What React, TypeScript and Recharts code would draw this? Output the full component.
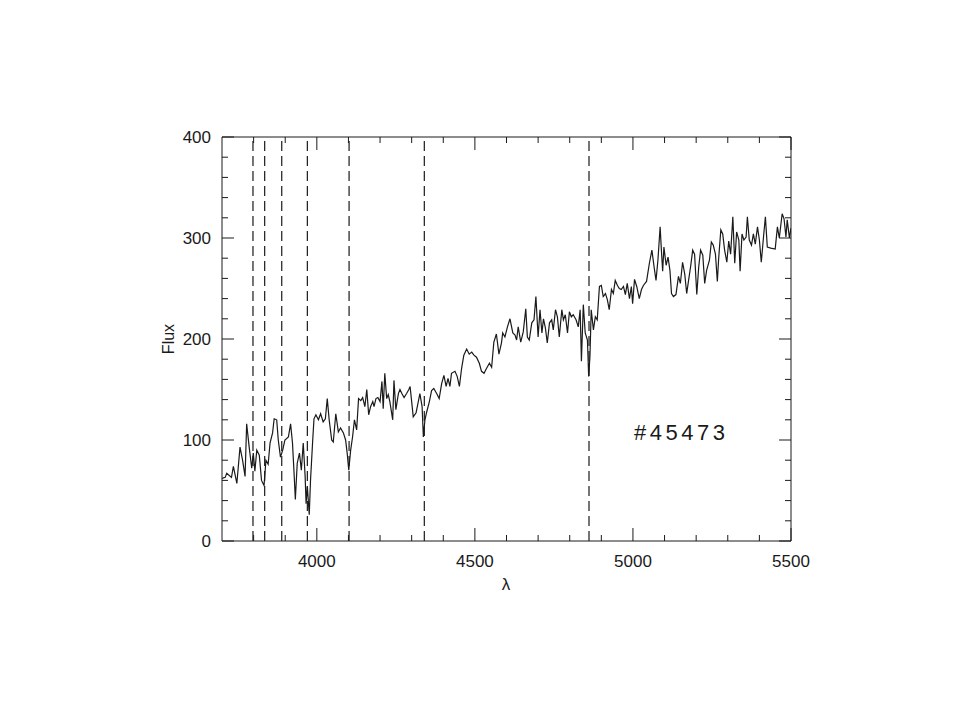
import { LineChart, Line, XAxis, YAxis, ReferenceLine } from "recharts";

// Spectrum of #45473: wavelength (Å) and flux.
const LAMBDA = [
  3700, 3710, 3715, 3730, 3736, 3747, 3757, 3765, 3773, 3778, 3786, 3794, 3799, 3804, 3810, 3818,
  3825, 3833, 3839, 3846, 3852, 3860, 3865, 3873, 3878, 3885, 3892, 3899, 3910, 3917, 3923, 3928,
  3932, 3938, 3945, 3951, 3957, 3963, 3966, 3970, 3976, 3980, 3987, 3991, 3997, 4005, 4012, 4020,
  4027, 4033, 4039, 4047, 4052, 4060, 4068, 4075, 4084, 4091, 4096, 4101, 4107, 4113, 4119, 4126,
  4132, 4139, 4145, 4152, 4158, 4164, 4170, 4177, 4181, 4187, 4193, 4200, 4206, 4210, 4215, 4221,
  4226, 4231, 4240, 4244, 4250, 4258, 4263, 4269, 4276, 4284, 4291, 4295, 4300, 4305, 4314, 4321,
  4326, 4333, 4337, 4342, 4347, 4356, 4363, 4370, 4379, 4387, 4395, 4402, 4409, 4415, 4421, 4426,
  4437, 4444, 4451, 4458, 4465, 4474, 4482, 4490, 4497, 4505, 4514, 4521, 4529, 4537, 4546, 4553,
  4560, 4568, 4576, 4584, 4588, 4595, 4603, 4611, 4620, 4627, 4632, 4637, 4645, 4653, 4661, 4666,
  4672, 4680, 4687, 4693, 4700, 4706, 4712, 4717, 4723, 4729, 4736, 4743, 4748, 4755, 4761, 4767,
  4775, 4780, 4786, 4793, 4799, 4805, 4811, 4820, 4827, 4833, 4837, 4843, 4849, 4856, 4860, 4864,
  4868, 4875, 4881, 4887, 4894, 4900, 4906, 4913, 4919, 4925, 4932, 4938, 4944, 4951, 4957, 4963,
  4970, 4976, 4982, 4989, 4995, 4999, 5005, 5012, 5020, 5027, 5033, 5043, 5052, 5060, 5067, 5073,
  5079, 5086, 5090, 5094, 5098, 5105, 5111, 5117, 5122, 5128, 5136, 5144, 5150, 5157, 5164, 5170,
  5176, 5183, 5189, 5195, 5202, 5208, 5214, 5221, 5227, 5233, 5242, 5248, 5254, 5261, 5267, 5271,
  5278, 5284, 5290, 5297, 5303, 5309, 5316, 5322, 5328, 5335, 5339, 5345, 5351, 5358, 5362, 5368,
  5375, 5381, 5387, 5394, 5400, 5406, 5413, 5419, 5425, 5436, 5450, 5457, 5463, 5472, 5478, 5484,
  5488, 5495, 5500,
];
const FLUX = [
  62, 63, 67, 63, 74, 57, 93, 80, 64, 116, 93, 72, 87, 69, 90, 85,
  60, 55, 80, 76, 97, 107, 121, 120, 100, 83, 90, 100, 103, 116, 97, 67,
  41, 77, 87, 70, 97, 64, 37, 54, 26, 60, 100, 121, 125, 120, 126, 118,
  121, 141, 120, 100, 98, 126, 108, 112, 107, 100, 87, 70, 90, 103, 120, 110,
  141, 139, 142, 133, 150, 125, 133, 138, 133, 141, 142, 138, 158, 131, 166, 141,
  145, 138, 120, 159, 130, 146, 150, 146, 142, 146, 150, 153, 138, 123, 127, 138,
  146, 133, 103, 120, 127, 138, 149, 151, 146, 141, 156, 164, 153, 161, 153, 166,
  168, 163, 153, 171, 184, 190, 185, 187, 184, 182, 176, 168, 166, 171, 176, 172,
  197, 205, 185, 196, 206, 202, 212, 220, 206, 204, 199, 212, 197, 207, 230, 202,
  199, 216, 219, 242, 202, 229, 206, 220, 211, 196, 216, 219, 209, 229, 222, 202,
  229, 219, 224, 206, 227, 222, 224, 219, 212, 229, 178, 234, 206, 199, 163, 183,
  229, 209, 222, 219, 252, 253, 242, 245, 239, 229, 249, 245, 258, 253, 250, 249,
  252, 244, 255, 240, 252, 235, 259, 252, 240, 249, 253, 257, 275, 288, 271, 258,
  278, 311, 288, 267, 291, 273, 281, 268, 245, 242, 244, 262, 255, 276, 264, 245,
  258, 273, 288, 284, 244, 271, 288, 283, 255, 268, 278, 296, 293, 284, 257, 279,
  308, 304, 288, 276, 297, 284, 321, 275, 306, 298, 267, 304, 298, 301, 321, 298,
  293, 304, 294, 311, 298, 276, 301, 321, 291, 290, 289, 311, 300, 324, 319, 301,
  318, 300, 310,
];

// Balmer lines marked with dashed verticals
const LINES = [3798, 3835, 3889, 3970, 4102, 4340, 4861];

const X_MAJOR = [4000, 4500, 5000, 5500];
const X_MINOR = [3800, 3900, 4100, 4200, 4300, 4400, 4600, 4700, 4800, 4900, 5100, 5200, 5300, 5400];
const Y_MAJOR = [0, 100, 200, 300, 400];
const Y_MINOR = [20, 40, 60, 80, 120, 140, 160, 180, 220, 240, 260, 280, 320, 340, 360, 380];

const data = LAMBDA.map((l, i) => ({ lambda: l, flux: FLUX[i] }));

const FONT = "'Liberation Sans', Arial, sans-serif";
const INK = "#1a1a1a";
const X_TICKS = [...X_MINOR, ...X_MAJOR];
const Y_TICKS = [...Y_MINOR, ...Y_MAJOR];

// IDL-style inward ticks: major ones longer, labels only on bottom/left.
function XTick(props: any) {
  const { x, y, payload, side } = props;
  const major = X_MAJOR.includes(payload.value);
  const len = major ? 13 : 6;
  const dir = side === "bottom" ? -1 : 1;
  return (
    <g>
      <line x1={x} x2={x} y1={y} y2={y + dir * len} stroke={INK} strokeWidth={1} />
      {major && side === "bottom" && (
        <text x={x} y={y + 26} textAnchor="middle" fontSize={17} fontFamily={FONT} fill={INK}>
          {payload.value}
        </text>
      )}
    </g>
  );
}

function YTick(props: any) {
  const { x, y, payload, side } = props;
  const major = Y_MAJOR.includes(payload.value);
  const len = major ? 12 : 6;
  const dir = side === "left" ? 1 : -1;
  return (
    <g>
      <line x1={x} x2={x + dir * len} y1={y} y2={y} stroke={INK} strokeWidth={1} />
      {major && side === "left" && (
        <text x={x - 11} y={y + 6} textAnchor="end" fontSize={17} fontFamily={FONT} fill={INK}>
          {payload.value}
        </text>
      )}
    </g>
  );
}

export default function App() {
  const line = { stroke: INK, strokeWidth: 1 };
  return (
    <div style={{ position: "absolute", left: 0, top: 0, width: 960, height: 720, background: "#fff" }}>
      <LineChart
        width={960}
        height={720}
        data={data}
        margin={{ left: 221, top: 136, right: 168, bottom: 178 }}
      >
        <XAxis
          xAxisId="x"
          dataKey="lambda"
          type="number"
          domain={[3700, 5500]}
          allowDataOverflow
          ticks={X_TICKS}
          interval={0}
          height={1}
          tickSize={0}
          tickMargin={0}
          tickLine={false}
          axisLine={line}
          tick={<XTick side="bottom" />}
        />
        <XAxis
          xAxisId="xt"
          orientation="top"
          dataKey="lambda"
          type="number"
          domain={[3700, 5500]}
          allowDataOverflow
          ticks={X_TICKS}
          interval={0}
          height={1}
          tickSize={0}
          tickMargin={0}
          tickLine={false}
          axisLine={line}
          tick={<XTick side="top" />}
        />
        <YAxis
          yAxisId="y"
          type="number"
          domain={[0, 400]}
          allowDataOverflow
          ticks={Y_TICKS}
          interval={0}
          width={1}
          tickSize={0}
          tickMargin={0}
          tickLine={false}
          axisLine={line}
          tick={<YTick side="left" />}
        />
        <YAxis
          yAxisId="yr"
          orientation="right"
          type="number"
          domain={[0, 400]}
          allowDataOverflow
          ticks={Y_TICKS}
          interval={0}
          width={1}
          tickSize={0}
          tickMargin={0}
          tickLine={false}
          axisLine={line}
          tick={<YTick side="right" />}
        />
        {LINES.map((l) => (
          <ReferenceLine
            key={l}
            x={l}
            xAxisId="x"
            yAxisId="y"
            stroke={INK}
            strokeWidth={1.2}
            strokeDasharray="10 5"
          />
        ))}
        <Line
          xAxisId="x"
          yAxisId="y"
          dataKey="flux"
          type="linear"
          stroke={INK}
          strokeWidth={1.2}
          dot={false}
          isAnimationActive={false}
        />
      </LineChart>
      <svg
        width={960}
        height={720}
        style={{ position: "absolute", left: 0, top: 0, pointerEvents: "none" }}
      >
        <text
          x={174}
          y={339}
          transform="rotate(-90 174 339)"
          textAnchor="middle"
          fontSize={16}
          fontFamily={FONT}
          fill={INK}
        >
          Flux
        </text>
        <text x={506} y={590} textAnchor="middle" fontSize={17} fontFamily={FONT} fill={INK}>
          λ
        </text>
        <text
          x={634}
          y={440}
          fontSize={22}
          letterSpacing={3.5}
          fontFamily={FONT}
          fill={INK}
        >
          #45473
        </text>
      </svg>
    </div>
  );
}
